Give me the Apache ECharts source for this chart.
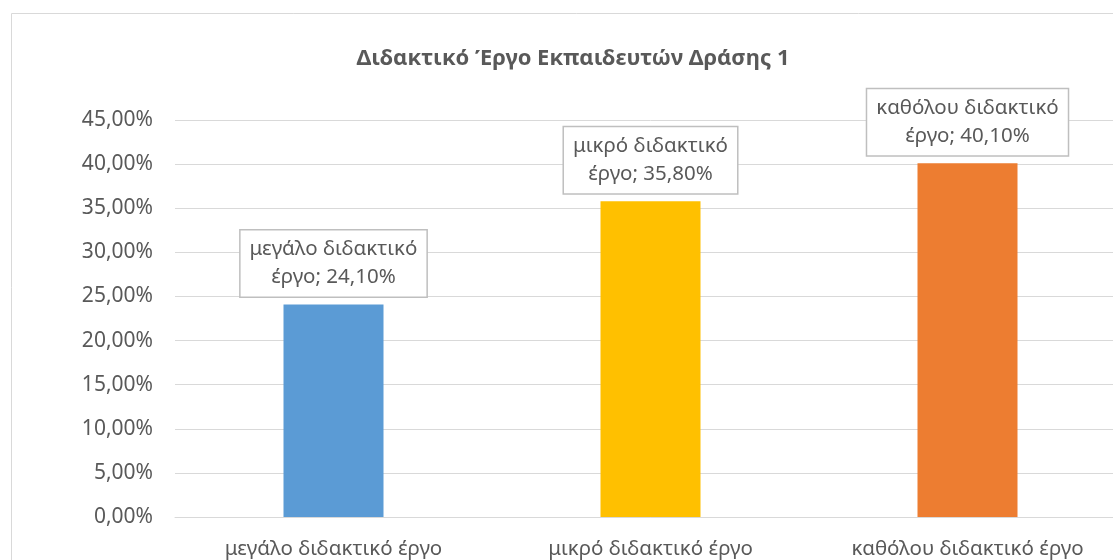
<!DOCTYPE html>
<html>
<head>
<meta charset="utf-8">
<script src="https://cdn.jsdelivr.net/npm/echarts@6/dist/echarts.min.js"></script>
<style>
    html, body { margin: 0; padding: 0; background: #fff; overflow: hidden; }
    #chart { width: 1140px; height: 560px; }
</style>
</head>
<body>
<div id="chart"></div>
<script>
var titleText = 'Διδακτικό Έργο Εκπαιδευτών Δράσης 1'
var categories = ['μεγάλο διδακτικό έργο', 'μικρό διδακτικό έργο', 'καθόλου διδακτικό έργο']
var values = [24.1, 35.8, 40.1]
var barColors = ['#5b9bd5', '#ffc000', '#ed7d31']
var yMax = 45
var yStep = 5

var textColor = '#595959'
var fontFamily = '"Noto Sans", sans-serif'

function pct (v) {
    return v.toFixed(2).replace('.', ',') + '%'
}

// the plot area runs a bit past the right edge of the window, as in the original
var myChart = echarts.init(document.getElementById('chart'))
myChart.setOption({
    animation: false,
    title: {
        text: titleText,
        left: 568,
        top: 43,
        textAlign: 'center',
        textStyle: {
            color: textColor,
            fontSize: 22,
            fontWeight: 'bold',
            fontFamily: fontFamily
        }
    },
    graphic: [{
        type: 'rect',
        shape: { x: 11.5, y: 13.5, width: 1200, height: 700 },
        style: { fill: 'none', stroke: '#d9d9d9', lineWidth: 1 },
        silent: true
    }],
    grid: {
        left: 175,
        top: 120,
        width: 951,
        height: 398
    },
    xAxis: {
        type: 'category',
        data: categories,
        axisTick: { show: false },
        axisLine: { lineStyle: { color: '#d9d9d9', width: 1 } },
        axisLabel: {
            margin: 22,
            color: textColor,
            fontSize: 20.5,
            fontFamily: fontFamily
        }
    },
    yAxis: {
        type: 'value',
        min: 0,
        max: yMax,
        interval: yStep,
        axisLine: { show: false },
        axisTick: { show: false },
        splitLine: { lineStyle: { color: '#d9d9d9', width: 1 } },
        axisLabel: {
            margin: 22,
            color: textColor,
            fontSize: 21,
            fontFamily: fontFamily,
            formatter: function (v) { return pct(v) }
        }
    },
    series: [{
        type: 'bar',
        barWidth: 100,
        data: values.map(function (v, i) {
            return { value: v, itemStyle: { color: barColors[i] } }
        }),
        label: {
            show: true,
            position: 'top',
            distance: 8,
            color: textColor,
            fontSize: 20.5,
            fontFamily: fontFamily,
            lineHeight: 28,
            align: 'center',
            backgroundColor: '#fff',
            borderColor: '#bfbfbf',
            borderWidth: 1.5,
            padding: [5, 9, 5, 9],
            formatter: function (p) {
                var words = p.name.split(' ')
                var last = words.pop()
                return words.join(' ') + '\n' + last + '; ' + pct(p.value)
            }
        }
    }]
})
</script>
</body>
</html>
